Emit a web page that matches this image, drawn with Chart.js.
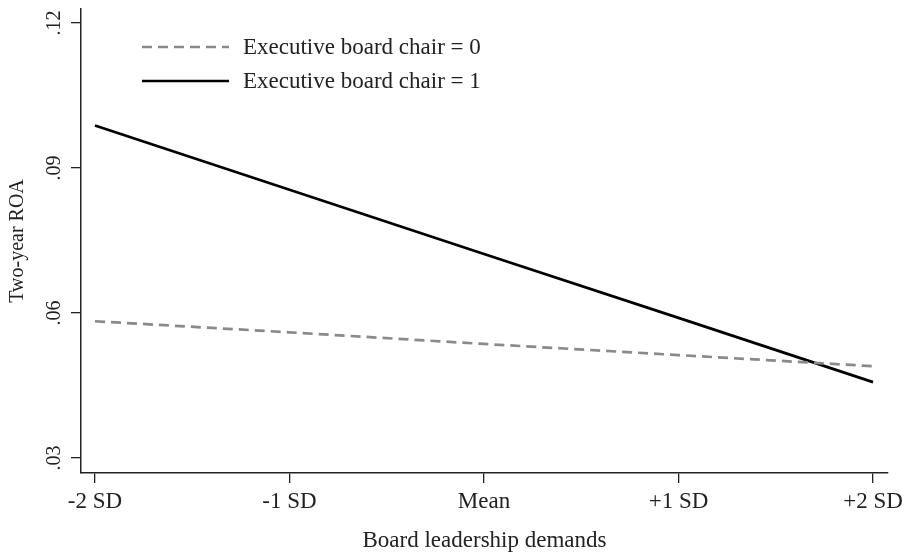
<!DOCTYPE html>
<html>
<head>
<meta charset="utf-8">
<script src="https://cdn.jsdelivr.net/npm/chart.js@4.4.1/dist/chart.umd.min.js"></script>
<style>
  html, body { margin: 0; padding: 0; background: #fff; }
  #wrap { width: 908px; height: 555px; position: relative; }
</style>
</head>
<body>
<div id="wrap"><canvas id="c" width="908" height="555"></canvas></div>
<script>
// Positions along the board leadership demands axis (in SD units) and their labels
const xPositions = [-2, -1, 0, 1, 2];
const xTickLabels = ['-2 SD', '-1 SD', 'Mean', '+1 SD', '+2 SD'];
const yTickValues = [0.03, 0.06, 0.09, 0.12];

// Predicted two-year ROA for each group
const chairZero = [0.0583, 0.0560, 0.0536, 0.0513, 0.0490];
const chairOne = [0.0988, 0.0855, 0.0722, 0.0590, 0.0457];

const seriesNames = ['Executive board chair = 0', 'Executive board chair = 1'];

const serif = "'Liberation Serif', 'Times New Roman', serif";
const ink = '#222';

const toPoints = vals => vals.map((v, i) => ({ x: xPositions[i], y: v }));

// Legend drawn inside the plot, top-left
const innerLegend = {
  id: 'innerLegend',
  afterDraw(chart) {
    const ctx = chart.ctx;
    const rows = [47, 81];
    chart.data.datasets.forEach((ds, i) => {
      const y = rows[i];
      ctx.save();
      ctx.strokeStyle = ds.borderColor;
      ctx.lineWidth = ds.borderWidth;
      ctx.setLineDash(ds.borderDash || []);
      ctx.beginPath();
      ctx.moveTo(142, y);
      ctx.lineTo(229, y);
      ctx.stroke();
      ctx.setLineDash([]);
      ctx.fillStyle = ink;
      ctx.font = '23px ' + serif;
      ctx.textBaseline = 'middle';
      ctx.fillText(ds.label, 243, y + 1);
      ctx.restore();
    });
  }
};

new Chart(document.getElementById('c'), {
  type: 'line',
  data: {
    datasets: [
      {
        label: seriesNames[0],
        data: toPoints(chairZero),
        borderColor: '#8a8a8a',
        borderWidth: 2.7,
        borderDash: [10, 6],
        pointRadius: 0,
        tension: 0
      },
      {
        label: seriesNames[1],
        data: toPoints(chairOne),
        borderColor: '#000',
        borderWidth: 2.7,
        pointRadius: 0,
        tension: 0
      }
    ]
  },
  options: {
    responsive: false,
    animation: false,
    layout: { padding: { top: 9, right: 20, left: 0, bottom: 0 } },
    plugins: {
      legend: { display: false },
      tooltip: { enabled: false }
    },
    scales: {
      x: {
        type: 'linear',
        min: -2.072,
        max: 2.077,
        afterBuildTicks: s => { s.ticks = xPositions.map(v => ({ value: v })); },
        afterFit: s => { s.height = 82; s.paddingLeft = 0; s.paddingRight = 0; },
        ticks: {
          color: ink,
          font: { family: serif, size: 23 },
          padding: 5,
          maxRotation: 0,
          callback: v => xTickLabels[xPositions.indexOf(v)]
        },
        grid: { drawOnChartArea: false, drawTicks: true, tickLength: 10, color: ink, lineWidth: 1.3 },
        border: { display: true, color: ink, width: 1.5 },
        title: {
          display: true,
          text: 'Board leadership demands',
          color: ink,
          font: { family: serif, size: 23 },
          padding: { top: 0, bottom: 0 }
        }
      },
      y: {
        min: 0.0269,
        max: 0.1229,
        afterBuildTicks: s => { s.ticks = yTickValues.map(v => ({ value: v })); },
        afterFit: s => { s.width = 81; s.paddingTop = 0; s.paddingBottom = 0; },
        ticks: {
          color: ink,
          font: { family: serif, size: 20 },
          padding: 3.5,
          crossAlign: 'center',
          minRotation: 90,
          maxRotation: 90,
          callback: v => v.toFixed(2).replace(/^0/, '')
        },
        grid: { drawOnChartArea: false, drawTicks: true, tickLength: 10, color: ink, lineWidth: 1.3 },
        border: { display: true, color: ink, width: 1.5 },
        title: {
          display: true,
          text: 'Two-year ROA',
          color: ink,
          font: { family: serif, size: 20 },
          padding: { top: 6, bottom: 0 }
        }
      }
    }
  },
  plugins: [innerLegend]
});
</script>
</body>
</html>
